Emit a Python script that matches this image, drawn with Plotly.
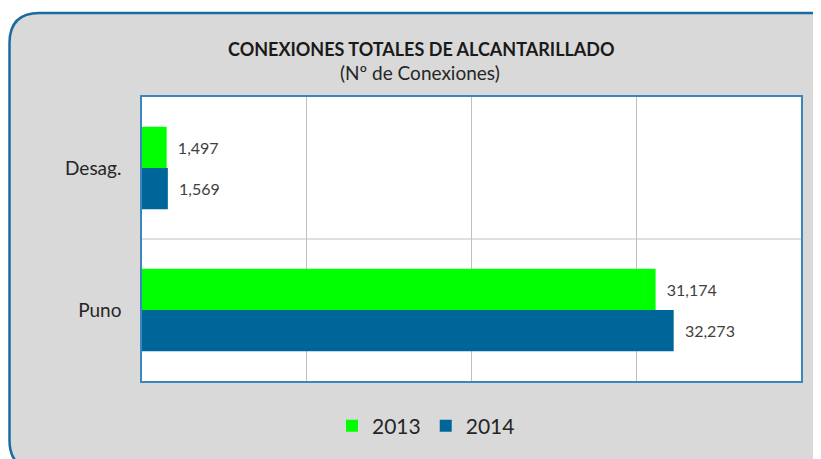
import plotly.graph_objects as go

categories = ["Desag.", "Puno"]
years = ["2013", "2014"]
values_2013 = [1497, 31174]
values_2014 = [1569, 32273]
colors = ["#00FF00", "#006699"]

# page body has an 8px margin; lay out in reference-window pixels, shifted by OFF
OFF = 8
W, H = 821, 459
PL, PR, PT, PB = 142, 801, 97, 381          # plot area in window pixels
ML, MT = PL - OFF, PT - OFF
MR, MB = W - (PR - OFF), H - (PB - OFF)
PW, PH = PR - PL, PB - PT

def px(X):
    return (X - PL) / PW

def py(Y):
    return (PB - Y) / PH

def rounded_path(L, T, R, B, r):
    pts = [
        ("M", [(L + r, T)]),
        ("L", [(R - r, T)]),
        ("Q", [(R, T), (R, T + r)]),
        ("L", [(R, B - r)]),
        ("Q", [(R, B), (R - r, B)]),
        ("L", [(L + r, B)]),
        ("Q", [(L, B), (L, B - r)]),
        ("L", [(L, T + r)]),
        ("Q", [(L, T), (L + r, T)]),
    ]
    s = ""
    for cmd, ps in pts:
        s += cmd + " " + " ".join(f"{px(x):.5f},{py(y):.5f}" for x, y in ps) + " "
    return s + "Z"

fig = go.Figure()
for yr, vals, col in zip(years, [values_2013, values_2014], colors):
    fig.add_trace(go.Bar(
        y=categories, x=vals, name=yr, orientation="h",
        marker=dict(color=col, line=dict(width=0)),
        text=[f"{v:,}" for v in vals],
        texttemplate="\u00a0\u00a0%{text}",
        textposition="outside",
        textfont=dict(family="Lato, sans-serif", size=16, color="#404040"),
        cliponaxis=False,
    ))

fig.update_layout(
    width=W, height=H,
    margin=dict(l=ML, r=MR, t=MT, b=MB),
    paper_bgcolor="white",
    plot_bgcolor="white",
    barmode="group",
    bargap=0.42,
    bargroupgap=0,
    showlegend=True,
    legend=dict(
        orientation="h", x=px(426), xanchor="center", y=py(426), yanchor="middle",
        font=dict(family="Lato, sans-serif", size=21, color="#262626"),
        bgcolor="rgba(0,0,0,0)", traceorder="normal", itemwidth=30,
    ),
    xaxis=dict(
        range=[0, 40000], dtick=10000, showticklabels=False,
        showgrid=True, gridcolor="#BFBFBF", gridwidth=1,
        showline=True, linecolor="#3A86BF", linewidth=1.5, mirror=True,
        zeroline=False, ticks="",
    ),
    yaxis=dict(
        autorange="reversed", showgrid=False,
        showline=True, linecolor="#3A86BF", linewidth=1.5, mirror=True,
        ticks="", ticklabelstandoff=15,
        tickfont=dict(family="Lato, sans-serif", size=19, color="#262626"),
    ),
    shapes=[
        dict(type="path", xref="paper", yref="paper", layer="below",
             path=rounded_path(9.5, 13, 840, 470, 30),
             fillcolor="#D9D9D9", line=dict(color="#1B6BA3", width=2.5)),
        dict(type="rect", xref="paper", yref="paper", layer="below",
             x0=0, x1=1, y0=0, y1=1, fillcolor="white", line=dict(width=0)),
        dict(type="line", xref="paper", yref="paper", layer="below",
             x0=0, x1=1, y0=0.5, y1=0.5, line=dict(color="#BFBFBF", width=1)),
    ],
    annotations=[
        dict(text="<b>CONEXIONES TOTALES DE ALCANTARILLADO</b>", xref="paper", yref="paper",
             x=px(421), y=py(49), xanchor="center", yanchor="middle", showarrow=False,
             font=dict(family="Lato, sans-serif", size=18, color="#1a1a1a")),
        dict(text="(Nº de Conexiones)", xref="paper", yref="paper",
             x=px(420), y=py(73), xanchor="center", yanchor="middle", showarrow=False,
             font=dict(family="Lato, sans-serif", size=19, color="#262626")),
    ],
)

fig.write_html("out.html")
